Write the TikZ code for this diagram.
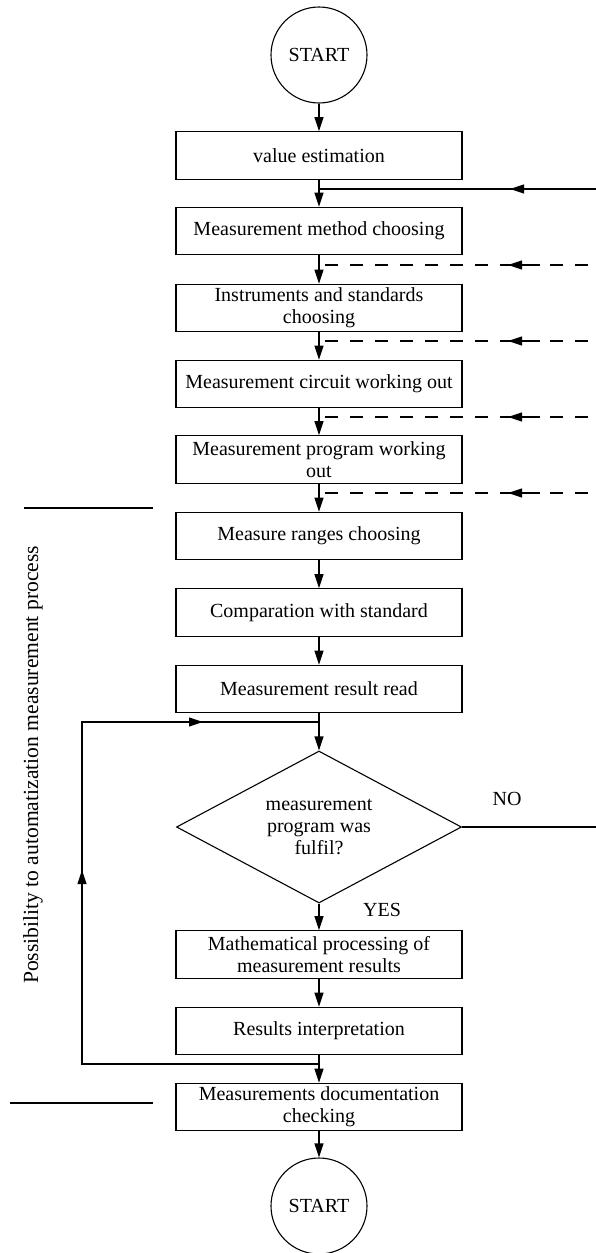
\documentclass[tikz,border=0pt]{standalone}
\usepackage{fontspec}
\setmainfont{Liberation Serif}
\usetikzlibrary{arrows.meta,shapes.geometric}
\begin{document}
\begin{tikzpicture}[x=1pt,y=-1pt,
  line width=1.1pt,
  every node/.style={font=\fontsize{20}{22}\selectfont},
  proc/.style={draw, rectangle, minimum width=286pt, minimum height=47.5pt, inner sep=0pt, align=center},
  term/.style={draw, circle, minimum size=96pt, inner sep=0pt},
  decision/.style={draw, diamond, shape aspect=1.875, minimum width=285pt, minimum height=152pt, inner sep=0pt, align=center},
  flow/.style={-{Triangle[length=14pt,width=9pt]}},
  feed/.style={dash pattern=on 13pt off 12pt},
  bar/.style={line width=1.6pt},
]
\useasboundingbox (0,0) rectangle (596,1253);

% main column
\node[term] (start) at (319,55) {START};
\node[proc] (b1) at (319,155.5) {value estimation};
\node[proc] (b2) at (319,231) {Measurement method choosing};
\node[proc] (b3) at (319,308) {Instruments and standards\\choosing};
\node[proc] (b4) at (319,384) {Measurement circuit working out};
\node[proc] (b5) at (319,459.5) {Measurement program working\\out};
\node[proc] (b6) at (319,536) {Measure ranges choosing};
\node[proc] (b7) at (319,612.5) {Comparation with standard};
\node[proc] (b8) at (319,689) {Measurement result read};
\node[decision] (dec) at (319,827) {measurement\\program was\\fulfil?};
\node[proc] (b9) at (319,954.5) {Mathematical processing of\\measurement results};
\node[proc] (b10) at (319,1031) {Results interpretation};
\node[proc] (b11) at (319,1107) {Measurements documentation\\checking};
\node[term] (stop) at (319,1206) {START};

\draw[flow] (start) -- (b1);
\draw[flow] (b1) -- (b2);
\draw[flow] (b2) -- (b3);
\draw[flow] (b3) -- (b4);
\draw[flow] (b4) -- (b5);
\draw[flow] (b5) -- (b6);
\draw[flow] (b6) -- (b7);
\draw[flow] (b7) -- (b8);
\draw[flow] (b8) -- (dec);
\draw[flow] (dec) -- (b9);
\draw[flow] (b9) -- (b10);
\draw[flow] (b10) -- (b11);
\draw[flow] (b11) -- (stop);

% inputs entering from the right
\coordinate (j1) at (319,189);
\coordinate (r1) at (596,189);
\coordinate (t1) at (510,189);
\draw (r1) -- (j1);
\draw[flow] (r1) -- (t1);

\foreach \i/\y in {2/265,3/341,4/417,5/493}{
  \coordinate (d\i) at (325,\y);
  \coordinate (r\i) at (596,\y);
  \coordinate (s\i) at (540,\y);
  \coordinate (t\i) at (508,\y);
  \draw[feed] (d\i) -- (r\i);
  \draw[flow] (s\i) -- (t\i);
}

% decision outputs
\coordinate (noend) at (596,827);
\draw (dec.east) -- (noend);
\node (no) at (507,799) {NO};
\node (yes) at (382,910) {YES};

% feedback loop
\coordinate (fb0) at (319,1064);
\coordinate (fb1) at (82,1064);
\coordinate (fb2) at (82,722);
\coordinate (fb3) at (319,722);
\coordinate (fu) at (82,870);
\coordinate (fr) at (203,722);
\draw (fb0) -- (fb1) -- (fb2) -- (fb3);
\draw[flow] (fb1) -- (fu);
\draw[flow] (fb2) -- (fr);

% automation range marker
\coordinate (m1a) at (24,508);
\coordinate (m1b) at (153,508);
\coordinate (m2a) at (10,1103);
\coordinate (m2b) at (153,1103);
\draw[bar] (m1a) -- (m1b);
\draw[bar] (m2a) -- (m2b);
\node[rotate=90, font=\fontsize{21.6}{24}\selectfont] (auto) at (33,765)
  {Possibility to automatization measurement process};
\end{tikzpicture}
\end{document}
